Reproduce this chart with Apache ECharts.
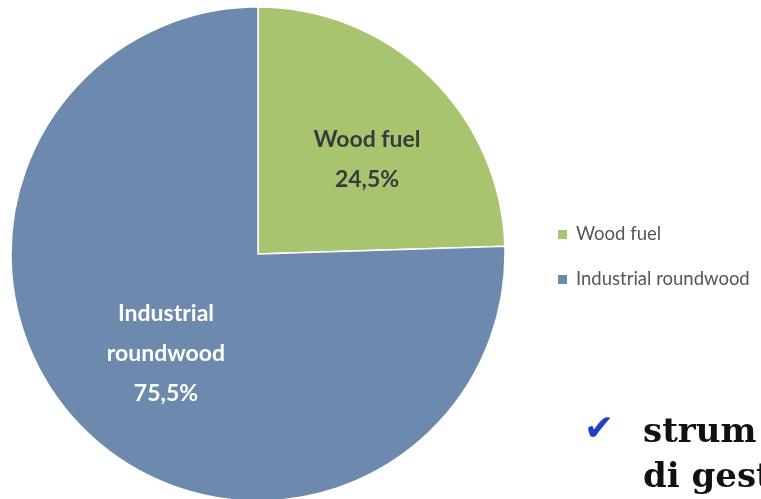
<!DOCTYPE html>
<html>
<head>
<meta charset="utf-8">
<script src="https://cdn.jsdelivr.net/npm/echarts@6/dist/echarts.min.js"></script>
<style>
  html, body { margin: 0; padding: 0; background: #ffffff; }
  #chart { width: 761px; height: 499px; }
</style>
</head>
<body>
<div id="chart"></div>
<script>
// Roundwood removals by assortment (share of total, %)
const categories = ['Wood fuel', 'Industrial roundwood'];
const shares = [24.5, 75.5];
const sliceColors = ['#a9c46f', '#6d8aae'];
const labelColors = ['#3a3a3a', '#ffffff'];
const bulletLines = ['strum', 'di gest'];

const chart = echarts.init(document.getElementById('chart'));

const fmt = v => v.toFixed(1).replace('.', ',') + '%';
const labelNudge = [[21, -4], [-4, 9]];

chart.setOption({
  animation: false,
  legend: {
    orient: 'vertical',
    left: 551,
    top: 220,
    itemWidth: 11,
    itemHeight: 11,
    itemGap: 26,
    icon: 'rect',
    textStyle: { fontFamily: 'Lato', fontSize: 18.5, color: '#555555', padding: [0, 0, 0, 3] },
    data: categories
  },
  series: [{
    type: 'pie',
    center: [258, 254],
    radius: 247,
    startAngle: 90,
    clockwise: true,
    silent: true,
    itemStyle: { borderColor: '#ffffff', borderWidth: 1.5 },
    label: {
      position: 'inside',
      fontFamily: 'Lato',
      fontWeight: 'bold',
      fontSize: 23,
      lineHeight: 40,
      formatter: p => p.name === 'Industrial roundwood'
        ? 'Industrial\nroundwood\n' + fmt(p.value)
        : p.name + '\n' + fmt(p.value)
    },
    labelLayout: p => ({ dx: labelNudge[p.dataIndex][0], dy: labelNudge[p.dataIndex][1] }),
    data: categories.map((c, i) => ({
      name: c,
      value: shares[i],
      itemStyle: { color: sliceColors[i] },
      label: { color: labelColors[i] }
    }))
  }],
  graphic: [
    {
      type: 'text', left: 584, top: 413,
      style: { text: '\u2714', fill: '#1b3fd1', font: '36px "DejaVu Sans"' }
    },
    {
      type: 'text', left: 643, top: 416,
      style: { text: bulletLines[0], fill: '#111111', font: 'bold 34px "DejaVu Serif"' }
    },
    {
      type: 'text', left: 643, top: 461,
      style: { text: bulletLines[1], fill: '#111111', font: 'bold 34px "DejaVu Serif"' }
    }
  ]
});
</script>
</body>
</html>
